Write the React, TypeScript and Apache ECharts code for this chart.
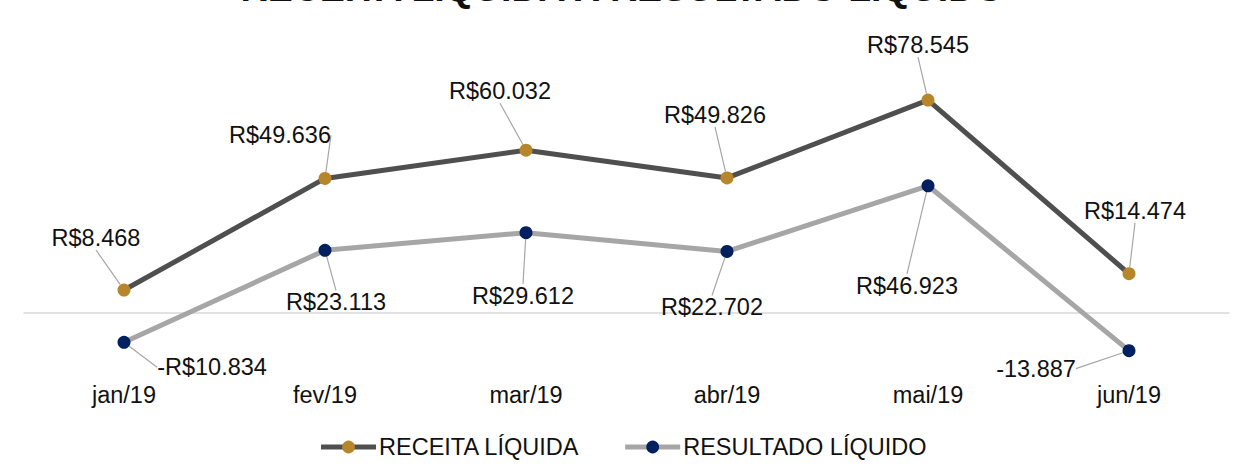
import React, { useEffect, useRef } from "react";
import * as echarts from "echarts";

const categories = ["jan/19", "fev/19", "mar/19", "abr/19", "mai/19", "jun/19"];
const receitaValues = [8468, 49636, 60032, 49826, 78545, 14474];
const resultadoValues = [-10834, 23113, 29612, 22702, 46923, -13887];
const receitaLabels = ["R$8.468", "R$49.636", "R$60.032", "R$49.826", "R$78.545", "R$14.474"];
const resultadoLabels = ["-R$10.834", "R$23.113", "R$29.612", "R$22.702", "R$46.923", "-13.887"];
const seriesNames = ["RECEITA LÍQUIDA", "RESULTADO LÍQUIDO"];
const titleText = "RECEITA LÍQUIDA X RESULTADO LÍQUIDO";

// label placement offsets (layout, in px from the marker centre)
const labelOffsets = [
  [[-28, -52], [-45, -43], [-26, -59], [-12, -63], [-10, -55], [6, -63]],
  [[88, 25], [11, 52], [-3, 63], [-15, 56], [-21, 100], [-93, 18]],
];

const FONT = "Liberation Sans, Arial, sans-serif";

export default function App() {
  const ref = useRef<HTMLDivElement>(null);
  useEffect(() => {
    if (!ref.current) return;
    const chart = echarts.init(ref.current, null, { renderer: "svg" });
    const labelLayout = (p: any) => {
      const off = labelOffsets[p.seriesIndex][p.dataIndex];
      const r = p.rect;
      return {
        x: r.x + r.width / 2 + off[0],
        y: r.y + r.height / 2 + off[1],
        align: "center",
        verticalAlign: "middle",
      };
    };
    chart.setOption({
      animation: false,
      backgroundColor: "#ffffff",
      textStyle: { fontFamily: FONT },
      graphic: [
        {
          type: "text",
          x: 622.5,
          y: -12,
          style: {
            text: titleText,
            font: `bold 37.5px ${FONT}`,
            fill: "#111111",
            align: "center",
            verticalAlign: "middle",
          },
        },
      ],
      grid: { left: 23.5, width: 1206, top: 69, height: 298.2 },
      legend: {
        left: "center",
        top: 430,
        itemWidth: 55,
        itemHeight: 16,
        itemGap: 43,
        lineStyle: { width: 5 },
        textStyle: { fontSize: 23.5, color: "#111111", fontFamily: FONT, padding: [0, 0, 0, -2] },
        data: seriesNames,
      },
      xAxis: {
        type: "category",
        data: categories,
        boundaryGap: true,
        axisLine: { show: false, onZero: false },
        axisTick: { show: false },
        axisLabel: { fontSize: 23.5, color: "#111111", margin: 16, fontFamily: FONT },
      },
      yAxis: {
        type: "value",
        min: -20000,
        max: 90000,
        show: false,
        splitLine: { show: false },
      },
      series: [
        {
          name: seriesNames[0],
          type: "line",
          data: receitaValues,
          z: 3,
          symbol: "circle",
          symbolSize: 13,
          lineStyle: { color: "#4f4f4f", width: 5 },
          itemStyle: { color: "#b8862a" },
          label: {
            show: true,
            position: "inside",
            fontSize: 23.5,
            color: "#111111",
            fontFamily: FONT,
            formatter: (p: any) => receitaLabels[p.dataIndex],
          },
          labelLine: { show: true, lineStyle: { color: "#a6a6a6", width: 1.2 } },
          labelLayout,
          markLine: {
            silent: true,
            symbol: "none",
            label: { show: false },
            lineStyle: { color: "#d9d9d9", type: "solid", width: 1.5 },
            data: [{ yAxis: 0 }],
            z: 1,
          },
        },
        {
          name: seriesNames[1],
          type: "line",
          data: resultadoValues,
          z: 2,
          symbol: "circle",
          symbolSize: 13,
          lineStyle: { color: "#a6a6a6", width: 5 },
          itemStyle: { color: "#002060" },
          label: {
            show: true,
            position: "inside",
            fontSize: 23.5,
            color: "#111111",
            fontFamily: FONT,
            formatter: (p: any) => resultadoLabels[p.dataIndex],
          },
          labelLine: { show: true, lineStyle: { color: "#a6a6a6", width: 1.2 } },
          labelLayout,
        },
      ],
    });
    return () => chart.dispose();
  }, []);
  return (
    <div
      ref={ref}
      style={{ position: "fixed", left: 0, top: 0, width: 1245, height: 472 }}
    />
  );
}
